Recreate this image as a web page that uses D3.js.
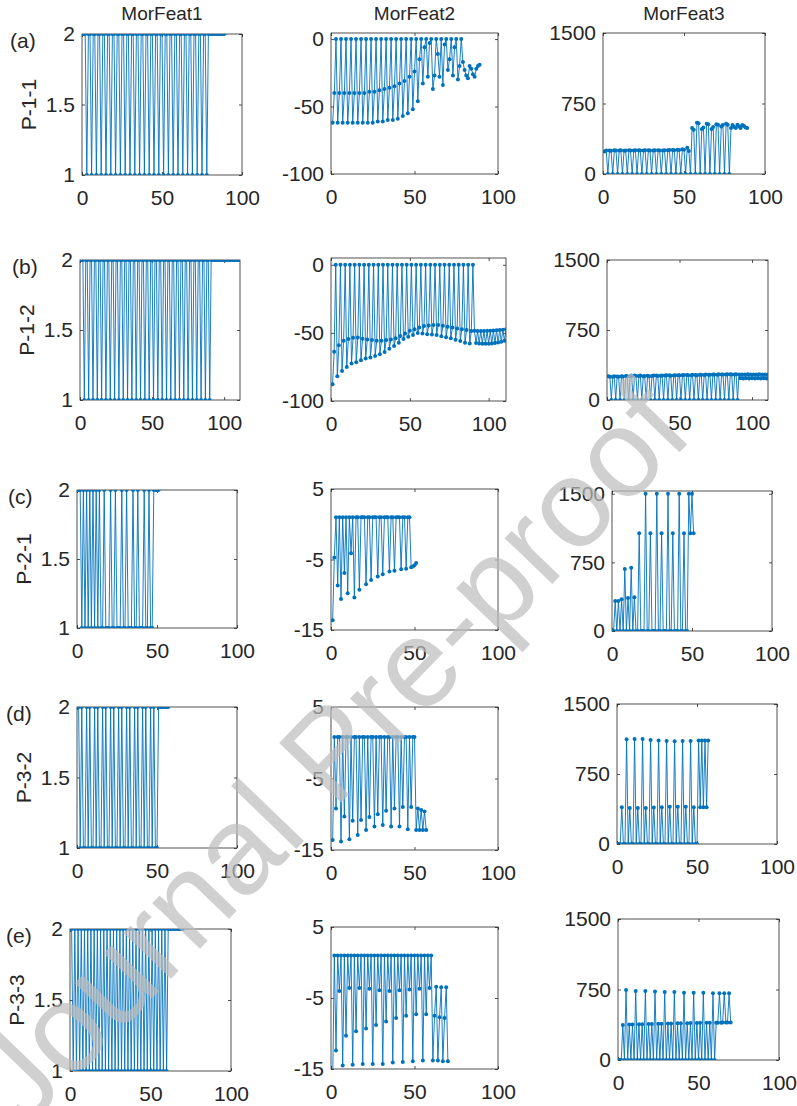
<!DOCTYPE html>
<html>
<head>
<meta charset="utf-8">
<script src="https://cdn.jsdelivr.net/npm/d3@7"></script>
<style>
body { margin: 0; background: #fff; }
svg text { font-family: "Liberation Sans", Arial, Helvetica, sans-serif; fill: #262626; }
</style>
</head>
<body>
<svg id="fig" width="797" height="1106"></svg>
<script>
// ---- labels ----
var colTitles = ['MorFeat1', 'MorFeat2', 'MorFeat3'];
var rowNames = ['P-1-1', 'P-1-2', 'P-2-1', 'P-3-2', 'P-3-3'];
var rowTags = ['(a)', '(b)', '(c)', '(d)', '(e)'];
var xTicks = [0, 50, 100];
var feat1Ticks = [1, 1.5, 2];
var feat2TicksWide = [-100, -50, 0];
var feat2TicksNarrow = [-15, -5, 5];
var feat3Ticks = [0, 750, 1500];

// ---- series (index = sample 1..N) ----
// P-1-1
var p11_f1 = [2,2,1,2,2,1,2,2,1,2,2,1,2,2,1,2,2,1,2,2,1,2,2,1,2,2,1,2,2,1,2,2,1,2,2,1,2,2,1,2,2,1,2,2,1,2,2,1,2,2,1,2,2,1,2,2,1,2,2,1,2,2,1,2,2,1,2,2,1,2,2,1,2,2,1,2,2,1,
  2,2,2,2,2,2,2,2,2,2,2];
var p11_f2 = [-62,-40,0,-62,-40,0,-62,-40,0,-62,-40,0,-62,-40,0,-62,-40,0,-62,-40,0,-62,-39,0,-62,-39,0,
  -61,-38,0,-61,-37,0,-60,-36,0,-60,-35,0,-59,-33,0,-57,-31,0,-55,-28,0,-52,-24,0,
  -46,-15,0,-33,-6,0,-28,-3,0,-37,-27,0,-11,-28,0,-34,-4,0,-23,-15,0,-27,-6,0,-30,-20,0,
  -17,-23,-27,-29,-20,-22,-26,-28,-22,-20,-19];
var p11_f3 = [240,250,0,250,248,0,252,250,0,250,252,0,248,250,0,252,250,0,250,252,0,252,250,0,250,252,0,
  252,250,0,250,252,0,252,250,0,250,252,0,252,255,0,255,252,0,258,255,0,262,258,0,
  280,245,0,490,470,0,545,540,0,480,495,0,535,530,0,480,500,0,530,525,0,505,520,0,535,525,0,
  490,520,500,490,525,505,490,520,510,495,490];

// P-1-2
var p12_f1 = [2,2,1,2,2,1,2,2,1,2,2,1,2,2,1,2,2,1,2,2,1,2,2,1,2,2,1,2,2,1,2,2,1,2,2,1,2,2,1,2,2,1,2,2,1,
  2,2,1,2,2,1,2,2,1,2,2,1,2,2,1,2,2,1,2,2,1,2,2,1,2,2,1,2,2,1,2,2,1,2,2,1,2,2,1,2,2,1,2,2,1,
  2,2,2,2,2,2,2,2,2,2,2,2,2,2,2,2,2,2,2,2,2];
var p12_f2 = [-87.7,-63.9,0,-81.8,-59,0,-78,-55.8,0,-75,-54.5,0,-72.5,-53.6,0,-71.5,-53.3,0,-70,-54.3,0,
  -68.8,-54.8,0,-68,-55.3,0,-67,-55.8,0,-65.6,-55.8,0,-64,-55.3,0,-61.7,-54.8,0,-59.7,-54,0,
  -57.2,-52.3,0,-54.5,-50.4,0,-52.8,-48.4,0,-51.6,-47.4,0,-50,-46,0,-50.5,-45,0,-51,-44.5,0,
  -51.2,-44.2,0,-51.6,-44.2,0,-52.5,-44.7,0,-53.2,-45.5,0,-54,-46,0,-55,-46.7,0,-56,-47.4,0,
  -57.2,-47.9,0,-57.7,-48.6,0,
  -48.5,-57.5,-48.6,-57.8,-48.6,-58,-48.6,-58,-48.5,-57.9,-48.4,-57.7,-48.2,-57.4,-48,-57,-47.8,-56.5,-47.6,-55.8,-47.4];
var p12_f3 = [255,248,0,250,255,0,252,250,0,255,252,0,258,255,0,255,260,0,262,256,0,258,262,0,255,258,0,
  260,255,0,258,262,0,262,258,0,260,262,0,262,265,0,265,260,0,262,265,0,265,264,0,265,268,0,
  268,265,0,265,270,0,268,266,0,270,270,0,268,272,0,270,270,0,272,272,0,270,275,0,272,272,0,
  272,275,0,275,274,0,272,276,0,
  272,232,274,230,272,232,275,230,272,232,274,230,272,232,275,230,272,232,274,230,272];

// P-2-1
var p21_f1 = [2,2,1,2,1,2,1,2,1,2,1,2,1,2,1,1,2,1,1,1,2,1,1,2,1,1,1,2,1,1,2,1,1,1,2,1,1,2,1,1,1,2,1,1,2,1,1,
  2,2,2,2];
var p21_f2 = [-13.6,-4.7,1,-8.7,1,-10.6,1,-6.9,1,-9.8,1,-4.1,1,-10.4,1,1,-9.3,1,1,1,-8.5,1,1,-7.9,1,1,1,
  -7.4,1,1,-7.1,1,1,1,-6.7,1,1,-6.6,1,1,1,-6.4,1,1,-6.3,1,1,
  -6.1,-6.0,-5.8,-5.5];
var p21_f3 = [0,329,0,329,0,348,0,677,0,362,0,692,0,370,0,0,1068,0,0,0,1500,0,0,1068,0,0,0,
  1500,0,0,1068,0,0,0,1500,0,0,1068,0,0,0,1500,0,0,1068,0,0,
  1500,1068,1500,1068];

// P-3-2
var p32_f1 = [2,1,2,1,1,2,1,2,1,1,2,1,2,1,1,2,1,2,1,1,2,1,2,1,1,2,1,2,1,1,2,1,2,1,1,2,1,2,1,1,2,1,2,1,1,2,1,2,1,1,
  2,2,2,2,2,2,2];
var p32_f2 = [-13.6,0.8,-9.2,0.8,0.8,-13.8,0.8,-10.3,0.8,0.8,-13.5,0.8,-10.9,0.8,0.8,-12.9,0.8,-10.8,0.8,0.8,
  -12.2,0.8,-10.4,0.8,0.8,-11.7,0.8,-10,0.8,0.8,-11.5,0.8,-9.5,0.8,0.8,-11.7,0.8,-9.2,0.8,0.8,
  -11.7,0.8,-9,0.8,0.8,-12.1,0.8,-9,0.8,0.8,
  -12.2,-9.2,-12.2,-9.4,-12.2,-9.6,-12.2];
var p32_f3 = [0,0,395,0,0,1122,0,385,0,0,1126,0,385,0,0,1126,0,385,0,0,1115,0,392,0,0,1108,0,395,0,0,
  1104,0,399,0,0,1100,0,399,0,0,1104,0,399,0,0,1104,0,395,0,0,
  1108,395,1108,395,1108,395,1108];

// P-3-3
var p33_f1 = [2,1,2,1,2,1,2,1,2,1,2,1,2,1,2,1,2,1,2,1,2,1,2,1,2,1,2,1,2,1,2,1,2,1,2,1,2,1,2,1,
  2,1,2,1,2,1,2,1,2,1,2,1,2,1,2,1,2,1,2,1,
  2,2,2,2,2,2,2,2,2,2];
var p33_f2 = [-17,1,-12.4,1,-4,1,-14.5,1,-10.3,1,-3.6,1,-14.4,1,-9.7,1,-3.6,1,-14.3,1,-9.3,1,-3.7,1,
  -14.3,1,-8.8,1,-3.9,1,-14.3,1,-8.3,1,-4,1,-14.1,1,-7.8,1,-3.9,1,-14,1,-7.5,1,-3.8,1,
  -13.9,1,-7.3,1,-3.7,1,-13.8,1,-7.3,1,-3.6,1,
  -13.8,-7.5,-3.4,-13.8,-7.7,-3.5,-13.9,-7.8,-3.5,-13.9];
var p33_f3 = [0,0,372,0,745,0,378,0,378,0,734,0,380,0,380,0,734,0,382,0,383,0,730,0,385,0,386,0,723,0,
  388,0,388,0,723,0,390,0,391,0,716,0,392,0,393,0,716,0,394,0,395,0,716,0,396,0,396,0,709,0,
  397,397,709,397,398,709,398,398,709,398];

// ---- layout: one entry per subplot, row by row ----
var panels = [
  {data: p11_f1, box: [82, 34, 242, 175], xmax: 100, ydom: [1, 2], yt: feat1Ticks},
  {data: p11_f2, box: [331, 33, 498, 174], xmax: 100, ydom: [-100, 4.5], yt: feat2TicksWide},
  {data: p11_f3, box: [603, 33, 765, 174], xmax: 100, ydom: [0, 1500], yt: feat3Ticks},

  {data: p12_f1, box: [80, 260, 240, 400], xmax: 111, ydom: [1, 2], yt: feat1Ticks},
  {data: p12_f2, box: [331, 258, 506, 401], xmax: 111, ydom: [-100, 5], yt: feat2TicksWide},
  {data: p12_f3, box: [607, 260, 768, 400], xmax: 111, ydom: [0, 1500], yt: feat3Ticks},

  {data: p21_f1, box: [77, 490, 237, 628], xmax: 100, ydom: [1, 2], yt: feat1Ticks},
  {data: p21_f2, box: [331, 489, 498, 630], xmax: 100, ydom: [-15, 5], yt: feat2TicksNarrow},
  {data: p21_f3, box: [612, 491, 772, 631], xmax: 100, ydom: [0, 1530], yt: feat3Ticks},

  {data: p32_f1, box: [77, 707, 237, 848], xmax: 100, ydom: [1, 2], yt: feat1Ticks},
  {data: p32_f2, box: [331, 707, 498, 850], xmax: 100, ydom: [-15, 5], yt: feat2TicksNarrow},
  {data: p32_f3, box: [617, 704, 777, 844], xmax: 100, ydom: [0, 1500], yt: feat3Ticks},

  {data: p33_f1, box: [70, 929, 231, 1071], xmax: 100, ydom: [1, 2], yt: feat1Ticks},
  {data: p33_f2, box: [331, 927, 498, 1069], xmax: 100, ydom: [-15, 5], yt: feat2TicksNarrow},
  {data: p33_f3, box: [618, 919, 779, 1060], xmax: 100, ydom: [0, 1500], yt: feat3Ticks}
];
var tagX = [10, 12, 8, 6, 6];   // row tag left edge

var c = {
  blue: '#0072bd',
  ink: '#262626',
  tick: 3,
  tickFont: 21,
  titleFont: 19,
  dot: 2,
  lw: 0.9
};

var svg = d3.select('#fig');

function styleAxis(g) {
  g.attr('font-size', c.tickFont).attr('color', c.ink);
  g.select('.domain').remove();
  g.selectAll('line').attr('stroke-width', 0.8);
}

panels.forEach(function(p, i) {
  var row = Math.floor(i / 3), col = i % 3;
  var b = p.box;

  var x = d3.scaleLinear().domain([0, p.xmax]).range([b[0], b[2]]);
  var y = d3.scaleLinear().domain(p.ydom).range([b[3], b[1]]);

  var g = svg.append('g').attr('class', 'panel');

  g.append('clipPath').attr('id', 'clip' + i)
    .append('rect')
    .attr('x', b[0]).attr('y', b[1])
    .attr('width', b[2] - b[0]).attr('height', b[3] - b[1]);

  // axes, ticks pointing inward like matlab
  g.append('g').attr('transform', 'translate(0,' + b[3] + ')')
    .call(d3.axisBottom(x).tickValues(xTicks).tickSizeInner(-c.tick).tickSizeOuter(0)
      .tickPadding(15).tickFormat(function(d) { return String(d); }))
    .call(styleAxis);
  g.append('g').attr('transform', 'translate(0,' + b[1] + ')')
    .call(d3.axisTop(x).tickValues(xTicks).tickSizeInner(-c.tick).tickSizeOuter(0).tickFormat(''))
    .call(styleAxis);
  g.append('g').attr('transform', 'translate(' + b[0] + ',0)')
    .call(d3.axisLeft(y).tickValues(p.yt).tickSizeInner(-c.tick).tickSizeOuter(0)
      .tickPadding(7).tickFormat(function(d) { return String(d); }))
    .call(styleAxis);
  g.append('g').attr('transform', 'translate(' + b[2] + ',0)')
    .call(d3.axisRight(y).tickValues(p.yt).tickSizeInner(-c.tick).tickSizeOuter(0).tickFormat(''))
    .call(styleAxis);

  g.append('rect')
    .attr('x', b[0]).attr('y', b[1])
    .attr('width', b[2] - b[0]).attr('height', b[3] - b[1])
    .attr('fill', 'none').attr('stroke', c.ink).attr('stroke-width', 0.8);

  var pts = p.data.map(function(v, j) { return [j + 1, v]; });
  var plot = g.append('g').attr('clip-path', 'url(#clip' + i + ')');

  plot.append('path').datum(pts)
    .attr('d', d3.line().x(function(d) { return x(d[0]); }).y(function(d) { return y(d[1]); }))
    .attr('fill', 'none')
    .attr('stroke', c.blue)
    .attr('stroke-width', c.lw);

  plot.selectAll('circle').data(pts).enter().append('circle')
    .attr('cx', function(d) { return x(d[0]); })
    .attr('cy', function(d) { return y(d[1]); })
    .attr('r', c.dot)
    .attr('fill', c.blue);

  if (row === 0) {
    svg.append('text')
      .attr('x', (b[0] + b[2]) / 2).attr('y', 20)
      .attr('text-anchor', 'middle')
      .attr('font-size', c.titleFont)
      .text(colTitles[col]);
  }
  if (col === 0) {
    svg.append('text')
      .attr('transform', 'translate(' + (b[0] - 53) + ',' + ((b[1] + b[3]) / 2) + ') rotate(-90)')
      .attr('text-anchor', 'middle')
      .attr('dy', '0.35em')
      .attr('font-size', c.tickFont)
      .text(rowNames[row]);
    svg.append('text')
      .attr('x', tagX[row]).attr('y', b[1] + 7)
      .attr('dy', '0.35em')
      .attr('font-size', c.tickFont)
      .text(rowTags[row]);
  }
});

// watermark on top of everything
svg.append('text')
  .attr('transform', 'translate(25,1130) rotate(-46)')
  .attr('font-size', 125)
  .style('fill', '#bdbdbd')
  .attr('opacity', 0.7)
  .text('Journal Pre-proof');
</script>
</body>
</html>
